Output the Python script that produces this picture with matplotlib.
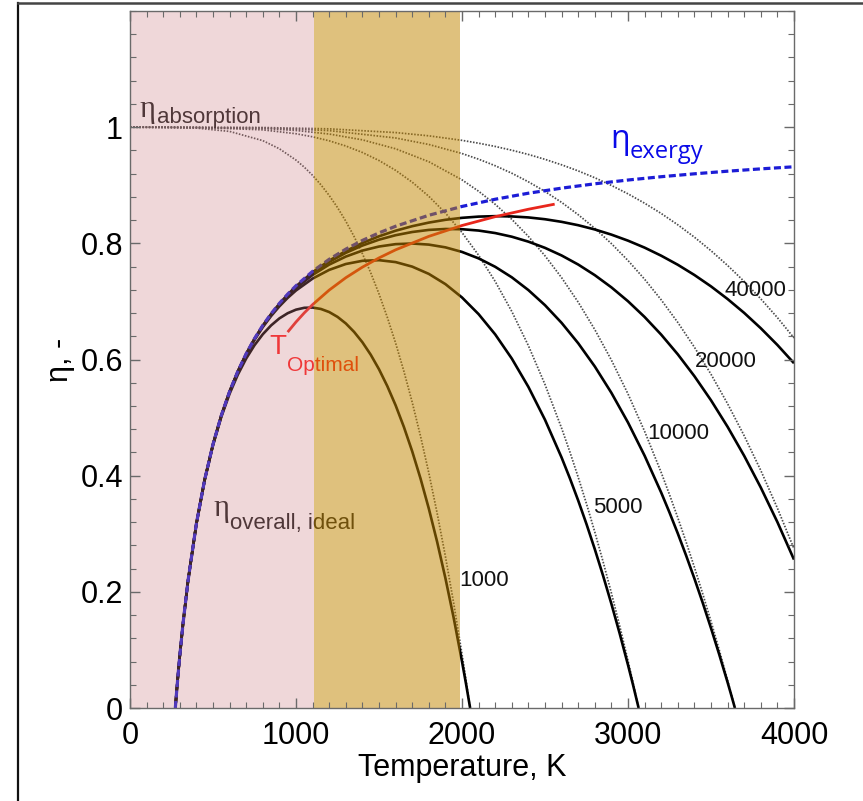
"""Ideal solar-thermal efficiency vs. receiver temperature for several concentrations."""

import matplotlib

matplotlib.use("Agg")
import matplotlib.pyplot as plt
from matplotlib.lines import Line2D
from matplotlib.ticker import MultipleLocator

plt.rcParams["font.family"] = ["Liberation Sans", "DejaVu Sans"]

# ---------------------------------------------------------------------------
# Data (T in K, efficiency in -)
# ---------------------------------------------------------------------------

CONCENTRATIONS = ["1000", "5000", "10000", "20000", "40000"]

T_EXERGY = [273, 280, 290, 300, 320, 350, 400, 450, 500, 550, 600, 650, 700,
            750, 800, 850, 900, 950, 1000, 1100, 1200, 1300, 1400, 1500, 1600,
            1800, 2000, 2200, 2400, 2600, 2800, 3000, 3200, 3400, 3600, 3800,
            4000]
ETA_EXERGY = [0.0, 0.025, 0.0586, 0.09, 0.1469, 0.22, 0.3175, 0.3933, 0.454,
              0.5036, 0.545, 0.58, 0.61, 0.636, 0.6588, 0.6788, 0.6967, 0.7126,
              0.727, 0.7518, 0.7725, 0.79, 0.805, 0.818, 0.8294, 0.8483, 0.8635,
              0.8759, 0.8863, 0.895, 0.9025, 0.909, 0.9147, 0.9197, 0.9242,
              0.9282, 0.9318]

T_LOW = [273, 280, 290, 300, 320, 350, 400, 450, 500, 550, 600, 650, 700, 750,
         800, 850, 900, 950, 1000]
T_HIGH = [1100, 1200, 1300, 1400, 1500, 1600, 1700, 1800, 1900, 2000, 2100,
          2200, 2300, 2400, 2500, 2600, 2700, 2800, 2900, 3000, 3100, 3200,
          3300, 3400, 3500, 3600, 3700, 3800, 3900, 4000]

T_OV_1000 = T_LOW + [1050, 1100, 1150, 1200, 1250, 1300, 1350, 1400, 1450,
                     1500, 1550, 1600, 1650, 1700, 1750, 1800, 1850, 1900,
                     1950, 2000, 2025, 2049]
ETA_OV_1000 = [0.0, 0.025, 0.0586, 0.09, 0.1468, 0.2198, 0.317, 0.3924, 0.4524,
               0.501, 0.541, 0.5741, 0.6017, 0.6246, 0.6435, 0.6587, 0.6708,
               0.6797, 0.6858,
               0.689, 0.6894, 0.687, 0.6817, 0.6734, 0.6621, 0.6475, 0.6297,
               0.6083, 0.5832, 0.5542, 0.5212, 0.4838, 0.4419, 0.3952, 0.3434,
               0.2863, 0.2236, 0.155, 0.0801, 0.0403, 0.0]

T_OV_5000 = T_LOW + [1100, 1200, 1300, 1400, 1500, 1600, 1700, 1800, 1900,
                     2000, 2100, 2200, 2300, 2400, 2500, 2600, 2650, 2700,
                     2750, 2800, 2850, 2900, 2950, 3000, 3030, 3064]
ETA_OV_5000 = [0.0, 0.025, 0.0586, 0.09, 0.1469, 0.22, 0.3174, 0.3932, 0.4537,
               0.5031, 0.5442, 0.5788, 0.6083, 0.6337, 0.6557, 0.6748, 0.6915,
               0.7061, 0.7188,
               0.7393, 0.7543, 0.7644, 0.7699, 0.771, 0.7677, 0.7599, 0.7474,
               0.7298, 0.7068, 0.6781, 0.6432, 0.6016, 0.5528, 0.4962, 0.4312,
               0.3954, 0.3572, 0.3166, 0.2734, 0.2277, 0.1793, 0.1281, 0.0741,
               0.0402, 0.0]

T_OV_10000 = T_LOW + [1100, 1200, 1300, 1400, 1500, 1600, 1700, 1800, 1900,
                      2000, 2100, 2200, 2300, 2400, 2500, 2600, 2700, 2800,
                      2900, 3000, 3100, 3200, 3250, 3300, 3350, 3400, 3450,
                      3500, 3550, 3600, 3620, 3644]
ETA_OV_10000 = [0.0, 0.025, 0.0586, 0.09, 0.1469, 0.22, 0.3174, 0.3933, 0.4538,
                0.5034, 0.5446, 0.5794, 0.6092, 0.6349, 0.6572, 0.6768, 0.6941,
                0.7093, 0.7229,
                0.7456, 0.7634, 0.7772, 0.7875, 0.7945, 0.7986, 0.7997, 0.7978,
                0.7931, 0.7852, 0.7741, 0.7596, 0.7415, 0.7195, 0.6935, 0.6631,
                0.628, 0.588, 0.5426, 0.4915, 0.4344, 0.3709, 0.3366, 0.3005,
                0.2626, 0.2229, 0.1812, 0.1375, 0.0918, 0.0441, 0.0243, 0.0]

T_OV_20000 = T_LOW + T_HIGH
ETA_OV_20000 = [0.0, 0.025, 0.0586, 0.09, 0.1469, 0.22, 0.3175, 0.3933, 0.4539,
                0.5035, 0.5448, 0.5797, 0.6096, 0.6354, 0.658, 0.6778, 0.6954,
                0.711, 0.7249,
                0.7487, 0.768, 0.7836, 0.7962, 0.8063, 0.814, 0.8195, 0.8231,
                0.8247, 0.8243, 0.822, 0.8177, 0.8114, 0.8029, 0.7922, 0.7791,
                0.7635, 0.7452, 0.7242, 0.7003, 0.6732, 0.6428, 0.6089, 0.5713,
                0.5298, 0.4841, 0.4341, 0.3795, 0.3201, 0.2555]

T_OV_40000 = T_LOW + T_HIGH
ETA_OV_40000 = [0.0, 0.025, 0.0586, 0.09, 0.1469, 0.22, 0.3175, 0.3933, 0.454,
                0.5036, 0.5449, 0.5799, 0.6098, 0.6357, 0.6584, 0.6783, 0.696,
                0.7118, 0.726,
                0.7503, 0.7702, 0.7868, 0.8006, 0.8121, 0.8217, 0.8295, 0.8357,
                0.8405, 0.8439, 0.846, 0.8468, 0.8463, 0.8446, 0.8415, 0.837,
                0.8312, 0.8239, 0.815, 0.8046, 0.7926, 0.7787, 0.7631, 0.7455,
                0.7259, 0.7041, 0.6802, 0.6538, 0.625, 0.5936]

T_AB_1000 = [0, 200, 400, 600, 800, 900, 1000, 1050, 1100, 1150, 1200, 1250,
             1300, 1350, 1400, 1450, 1500, 1550, 1600, 1650, 1700, 1750, 1800,
             1850, 1900, 1950, 2000, 2025, 2049]
ETA_AB_1000 = [1.0, 0.9999, 0.9985, 0.9927, 0.9768, 0.9628, 0.9433, 0.9311,
               0.917, 0.9008, 0.8824, 0.8616, 0.8381, 0.8117, 0.7822, 0.7494,
               0.713, 0.6727, 0.6284, 0.5797, 0.5264, 0.4682, 0.4048, 0.3358,
               0.2611, 0.1802, 0.0928, 0.0466, 0.0]

T_AB_5000 = [0, 400, 800, 1000, 1100, 1200, 1300, 1400, 1500, 1600, 1700, 1800,
             1900, 2000, 2100, 2200, 2300, 2400, 2500, 2600, 2650, 2700, 2750,
             2800, 2850, 2900, 2950, 3000, 3030, 3064]
ETA_AB_5000 = [1.0, 0.9997, 0.9954, 0.9887, 0.9834, 0.9765, 0.9676, 0.9564,
               0.9426, 0.9257, 0.9053, 0.881, 0.8522, 0.8186, 0.7795, 0.7344,
               0.6827, 0.6238, 0.557, 0.4818, 0.4408, 0.3973, 0.3515, 0.303,
               0.2518, 0.1979, 0.1412, 0.0815, 0.0442, 0.0]

T_AB_10000 = [0, 800, 1000, 1200, 1400, 1600, 1800, 2000, 2100, 2200, 2300,
              2400, 2500, 2600, 2700, 2800, 2900, 3000, 3100, 3200, 3250, 3300,
              3350, 3400, 3450, 3500, 3550, 3600, 3620, 3644]
ETA_AB_10000 = [1.0, 0.9977, 0.9943, 0.9882, 0.9782, 0.9628, 0.9405, 0.9093,
                0.8897, 0.8672, 0.8413, 0.8119, 0.7785, 0.7409, 0.6987, 0.6515,
                0.599, 0.5407, 0.4764, 0.4055, 0.3674, 0.3276, 0.2859, 0.2423,
                0.1967, 0.1492, 0.0995, 0.0477, 0.0263, 0.0]

T_AB_20000 = [0, 800, 1200, 1600, 1800, 2000, 2100, 2200, 2300, 2400, 2500,
              2600, 2700, 2800, 2900, 3000, 3100, 3200, 3300, 3400, 3500, 3600,
              3700, 3800, 3900, 4000]
ETA_AB_20000 = [1.0, 0.9988, 0.9941, 0.9814, 0.9702, 0.9546, 0.9449, 0.9336,
                0.9207, 0.9059, 0.8893, 0.8705, 0.8493, 0.8258, 0.7995, 0.7704,
                0.7382, 0.7027, 0.6638, 0.6212, 0.5746, 0.5238, 0.4687, 0.4089,
                0.3441, 0.2742]

T_AB_40000 = T_AB_20000
ETA_AB_40000 = [1.0, 0.9994, 0.9971, 0.9907, 0.9851, 0.9773, 0.9724, 0.9668,
                0.9603, 0.953, 0.9446, 0.9352, 0.9247, 0.9129, 0.8997, 0.8852,
                0.8691, 0.8514, 0.8319, 0.8106, 0.7873, 0.7619, 0.7343, 0.7044,
                0.6721, 0.6371]

T_OPT = [955, 1000, 1050, 1100, 1200, 1300, 1400, 1500, 1600, 1800, 2000,
         2200, 2400, 2550]
ETA_OPT = [0.649, 0.6646, 0.6803, 0.6945, 0.7195, 0.7408, 0.759, 0.7749,
           0.7888, 0.812, 0.8307, 0.8459, 0.8587, 0.867]

# curve label anchors (left edge, vertical centre)
LABEL_T = [1982, 2789, 3114, 3404, 3584]
LABEL_ETA = [0.22, 0.346, 0.473, 0.597, 0.719]

# shaded temperature bands
BAND_PINK = (0, 1110)
BAND_GOLD = (1110, 1985)

OVERALL = [(T_OV_1000, ETA_OV_1000), (T_OV_5000, ETA_OV_5000),
           (T_OV_10000, ETA_OV_10000), (T_OV_20000, ETA_OV_20000),
           (T_OV_40000, ETA_OV_40000)]
ABSORPTION = [(T_AB_1000, ETA_AB_1000), (T_AB_5000, ETA_AB_5000),
              (T_AB_10000, ETA_AB_10000), (T_AB_20000, ETA_AB_20000),
              (T_AB_40000, ETA_AB_40000)]

# ---------------------------------------------------------------------------
# Figure
# ---------------------------------------------------------------------------

fig = plt.figure(figsize=(8.63, 8.01), dpi=100)
ax = fig.add_axes([130 / 863, 1 - 708 / 801, 664 / 863, 697 / 801])

for t, e in ABSORPTION:
    ax.plot(t, e, color="#4c4c4c", lw=1.25, ls=(0, (0.9, 0.9)), zorder=2)

for t, e in OVERALL:
    ax.plot(t, e, color="black", lw=1.9, zorder=2.2,
            solid_capstyle="butt", solid_joinstyle="round")

ax.plot(T_EXERGY, ETA_EXERGY, color="#1c1cd6", lw=2.3, ls=(0, (2.2, 1.1)),
        zorder=2.3)
ax.plot(T_OPT, ETA_OPT, color="#e8261c", lw=2.0, zorder=2.4)

# labels that sit under the translucent bands
ax.text(105, 1.030, "η", fontsize=22, family="Liberation Serif",
        ha="center", va="center", color="#1a1a1a", zorder=2.5)
ax.text(160, 1.017, "absorption", fontsize=16, ha="left", va="center",
        color="#1a1a1a", zorder=2.5)
ax.text(554, 0.343, "η", fontsize=22, family="Liberation Serif",
        ha="center", va="center", color="#1a1a1a", zorder=2.5)
ax.text(602, 0.318, "overall, ideal", fontsize=16, ha="left", va="center",
        color="#1a1a1a", zorder=2.5)
ax.text(892, 0.622, "T", fontsize=20, ha="center", va="center",
        color="#ff1a1a", zorder=2.5)
ax.text(946, 0.589, "Optimal", fontsize=15, ha="left", va="center",
        color="#ff1a1a", zorder=2.5)

ax.axvspan(*BAND_PINK, color="#cd7d83", alpha=0.30, lw=0, zorder=3)
ax.axvspan(*BAND_GOLD, color="#c28600", alpha=0.51, lw=0, zorder=3)

for lab, tx, ey in zip(CONCENTRATIONS, LABEL_T, LABEL_ETA):
    ax.text(tx, ey, lab, fontsize=16, ha="left", va="center",
            color="#111111", zorder=4)

ax.text(2952, 0.978, "η", fontsize=23, family="Open Sans",
        ha="center", va="center", color="#0a0ae8", zorder=4)
ax.text(3012, 0.957, "exergy", fontsize=17, family="Open Sans",
        ha="left", va="center", color="#0a0ae8", zorder=4)

ax.set_xlim(0, 4000)
ax.set_ylim(0, 1.2)
ax.set_xticks([0, 1000, 2000, 3000, 4000])
ax.set_yticks([0, 0.2, 0.4, 0.6, 0.8, 1.0])
ax.set_yticklabels(["0", "0.2", "0.4", "0.6", "0.8", "1"])
ax.xaxis.set_minor_locator(MultipleLocator(100))
ax.yaxis.set_minor_locator(MultipleLocator(0.04))
ax.tick_params(which="both", direction="in", top=True, right=True,
               color="#6a6a6a", labelsize=22)
ax.tick_params(which="major", length=7, width=1.0)
ax.tick_params(which="minor", length=4, width=0.8)
ax.tick_params(axis="x", pad=9)
ax.tick_params(axis="y", pad=5)
for sp in ax.spines.values():
    sp.set_color("#6a6a6a")
    sp.set_linewidth(1.0)
    sp.set_zorder(5)
ax.xaxis.set_zorder(5)
ax.yaxis.set_zorder(5)

ax.set_xlabel("Temperature, K", fontsize=22, labelpad=2)
ax.set_ylabel("η, -", fontsize=22, labelpad=4)

# outer frame lines of the original figure
fig.add_artist(Line2D([18 / 863, 18 / 863], [0, 1 - 2.5 / 801],
                      color="#111111", lw=1.6))
fig.add_artist(Line2D([18 / 863, 1], [1 - 2.5 / 801, 1 - 2.5 / 801],
                      color="#444444", lw=1.8))

fig.savefig("out.png", dpi=100)
